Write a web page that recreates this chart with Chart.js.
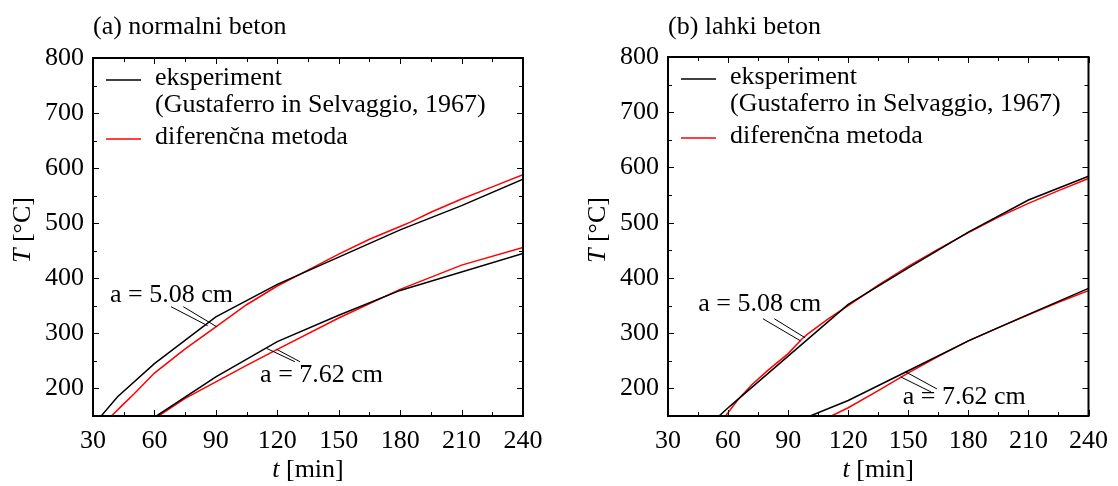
<!DOCTYPE html>
<html>
<head>
<meta charset="utf-8">
<script src="https://cdn.jsdelivr.net/npm/chart.js@4.4.0/dist/chart.umd.min.js"></script>
<style>
    body { margin: 0; background: #fff; width: 1118px; height: 486px; overflow: hidden; position: relative; }
    canvas { position: absolute; top: 0; }
    #chartA { left: 0; width: 559px; height: 486px; }
    #chartB { left: 575px; width: 543px; height: 486px; }
</style>
</head>
<body>
<canvas id="chartA" width="559" height="486"></canvas>
<canvas id="chartB" width="543" height="486"></canvas>
<script>
// (a) normalni beton - time [min], temperature [°C]
var nbExp508Time = [34, 42, 60, 90, 120, 180, 210, 240];
var nbExp508Temp = [150, 185, 245, 330, 389, 488, 532, 580];
var nbNum508Time = [39, 45, 50, 60, 75, 90, 105, 120, 135, 150, 165, 180, 185, 195, 210, 225, 240];
var nbNum508Temp = [150, 172, 190, 228, 272, 312, 352, 386, 415, 444, 471, 494, 502, 520, 544, 566, 588];
var nbExp762Time = [61, 90, 120, 150, 180, 240];
var nbExp762Temp = [150, 221, 285, 333, 378, 445];
var nbNum762Time = [62, 75, 90, 105, 120, 150, 180, 210, 240];
var nbNum762Temp = [150, 182, 212, 242, 271, 328, 380, 424, 456];

// (b) lahki beton
var lbExp508Time = [55.5, 61, 120, 150, 180, 210, 240];
var lbExp508Temp = [150, 168, 352, 418, 483, 541, 584];
var lbNum508Time = [58.7, 65, 72, 80, 90, 97, 100, 110, 120, 135, 150, 165, 180, 195, 210, 225, 240];
var lbNum508Temp = [150, 180, 207, 233, 263, 290, 299, 326, 350, 387, 421, 452, 482, 510, 535, 558, 580];
var lbExp762Time = [101, 120, 150, 180, 210, 240];
var lbExp762Temp = [150, 178, 232, 286, 334, 381];
var lbNum762Time = [111.6, 120, 135, 150, 165, 180, 195, 210, 225, 240];
var lbNum762Temp = [150, 165, 196, 228, 258, 286, 310, 333, 356, 377];

var xTickValues = [30, 60, 90, 120, 150, 180, 210, 240];
var yTickValues = [200, 300, 400, 500, 600, 700, 800];

var FONT = "'Liberation Serif', 'Times New Roman', serif";

function series(time, temp) {
    return time.map(function (t, i) { return { x: t, y: temp[i] }; });
}

function lineSet(time, temp, color) {
    return {
        data: series(time, temp),
        borderColor: color,
        borderWidth: 1.5,
        pointRadius: 0,
        tension: 0,
        fill: false
    };
}

// frame with small inward ticks on all four sides
var framePlugin = {
    id: "frame",
    afterDraw: function (chart) {
        var ctx = chart.ctx, a = chart.chartArea;
        var xs = chart.scales.x, ys = chart.scales.y;
        ctx.save();
        ctx.strokeStyle = "#000";
        ctx.lineWidth = 1;
        ctx.beginPath();
        xs.ticks.forEach(function (t) {
            var px = Math.round(xs.getPixelForValue(t.value)) + 0.5;
            var len = t.label !== "" ? 6 : 4;
            ctx.moveTo(px, a.bottom); ctx.lineTo(px, a.bottom - len);
            ctx.moveTo(px, a.top); ctx.lineTo(px, a.top + len);
        });
        ys.ticks.forEach(function (t) {
            var py = Math.round(ys.getPixelForValue(t.value)) + 0.5;
            var len = t.label !== "" ? 6 : 4;
            ctx.moveTo(a.left, py); ctx.lineTo(a.left + len, py);
            ctx.moveTo(a.right, py); ctx.lineTo(a.right - len, py);
        });
        ctx.stroke();
        ctx.lineWidth = 2;
        ctx.strokeRect(a.left, a.top, a.right - a.left, a.bottom - a.top);
        ctx.restore();
    }
};

function drawParts(ctx, parts, x, y) {
    var total = 0;
    parts.forEach(function (p) { ctx.font = p.font; total += ctx.measureText(p.text).width; });
    var cx = x - total / 2;
    parts.forEach(function (p) {
        ctx.font = p.font;
        ctx.fillText(p.text, cx, y);
        cx += ctx.measureText(p.text).width;
    });
}

function panelPlugin(title, notes) {
    return {
        id: "panel",
        afterDraw: function (chart) {
            var ctx = chart.ctx, a = chart.chartArea;
            var xs = chart.scales.x, ys = chart.scales.y;
            ctx.save();
            ctx.fillStyle = "#000";
            ctx.textBaseline = "middle";
            ctx.textAlign = "left";
            ctx.font = "26px " + FONT;
            ctx.fillText(title, a.left, 27);

            // legend
            ctx.lineWidth = 1.5;
            ctx.strokeStyle = "#000";
            ctx.beginPath(); ctx.moveTo(a.left + 13, a.top + 22); ctx.lineTo(a.left + 48, a.top + 22); ctx.stroke();
            ctx.strokeStyle = "#ff0000";
            ctx.beginPath(); ctx.moveTo(a.left + 13, a.top + 81); ctx.lineTo(a.left + 48, a.top + 81); ctx.stroke();
            ctx.fillText("eksperiment", a.left + 62, a.top + 20);
            ctx.fillText("(Gustaferro in Selvaggio, 1967)", a.left + 62, a.top + 47);
            ctx.fillText("diferenčna metoda", a.left + 62, a.top + 79);

            // axis titles
            drawParts(ctx, [
                { text: "t", font: "italic 26px " + FONT },
                { text: " [min]", font: "26px " + FONT }
            ], (a.left + a.right) / 2, 470);
            ctx.save();
            ctx.translate(a.left - 70, 230);
            ctx.rotate(-Math.PI / 2);
            drawParts(ctx, [
                { text: "T", font: "italic 26px " + FONT },
                { text: " [°C]", font: "26px " + FONT }
            ], 0, 0);
            ctx.restore();

            // curve labels with leader lines
            ctx.font = "26px " + FONT;
            ctx.strokeStyle = "#000";
            ctx.lineWidth = 1;
            notes.forEach(function (n) {
                ctx.fillText(n.text, xs.getPixelForValue(n.t), ys.getPixelForValue(n.T));
                n.lines.forEach(function (l) {
                    ctx.beginPath();
                    ctx.moveTo(xs.getPixelForValue(l[0]), ys.getPixelForValue(l[1]));
                    ctx.lineTo(xs.getPixelForValue(l[2]), ys.getPixelForValue(l[3]));
                    ctx.stroke();
                });
            });
            ctx.restore();
        }
    };
}

function makeChart(id, datasets, padTop, padRight, title, notes) {
    var tickFont = { family: FONT, size: 26 };
    return new Chart(document.getElementById(id), {
        type: "line",
        data: { datasets: datasets },
        options: {
            responsive: false,
            animation: false,
            layout: { padding: { top: padTop, right: padRight, left: 0, bottom: 0 } },
            plugins: { legend: { display: false }, tooltip: { enabled: false } },
            scales: {
                x: {
                    type: "linear", min: 30, max: 240,
                    afterFit: function (s) { s.height = 70; },
                    grid: { display: false, drawTicks: false },
                    border: { display: false },
                    ticks: {
                        stepSize: 15, autoSkip: false, maxRotation: 0, padding: 10,
                        color: "#000", font: tickFont,
                        callback: function (v) { return xTickValues.indexOf(v) >= 0 ? String(v) : ""; }
                    }
                },
                y: {
                    min: 150, max: 800,
                    afterFit: function (s) { s.width = 93; },
                    grid: { display: false, drawTicks: false },
                    border: { display: false },
                    ticks: {
                        stepSize: 50, autoSkip: false, padding: 9,
                        color: "#000", font: tickFont,
                        callback: function (v) { return yTickValues.indexOf(v) >= 0 ? String(v) : ""; }
                    }
                }
            }
        },
        plugins: [framePlugin, panelPlugin(title, notes)]
    });
}

makeChart("chartA", [
    lineSet(nbExp508Time, nbExp508Temp, "#000000"),
    lineSet(nbExp762Time, nbExp762Temp, "#000000"),
    lineSet(nbNum508Time, nbNum508Temp, "#ff0000"),
    lineSet(nbNum762Time, nbNum762Temp, "#ff0000")
], 58, 36, "(a) normalni beton", [
    { text: "a = 5.08 cm", t: 38.3, T: 370, lines: [[68.1, 348.4, 86.0, 313.9], [74.1, 348.4, 90.4, 312.1]] },
    { text: "a = 7.62 cm", t: 111.6, T: 224.4, lines: [[114.8, 272.8, 128.6, 248.5], [119.7, 271, 131.1, 248.5]] }
]);

makeChart("chartB", [
    lineSet(lbExp508Time, lbExp508Temp, "#000000"),
    lineSet(lbExp762Time, lbExp762Temp, "#000000"),
    lineSet(lbNum508Time, lbNum508Temp, "#ff0000"),
    lineSet(lbNum762Time, lbNum762Temp, "#ff0000")
], 57, 20, "(b) lahki beton", [
    { text: "a = 5.08 cm", t: 45.1, T: 353.3, lines: [[77.4, 326.1, 96.1, 286.2], [83.1, 326.1, 98.5, 291.6]] },
    { text: "a = 7.62 cm", t: 147.2, T: 184.5, lines: [[148.7, 229.9, 164.3, 199], [146.2, 220.8, 161.4, 193.5]] }
]);
</script>
</body>
</html>
